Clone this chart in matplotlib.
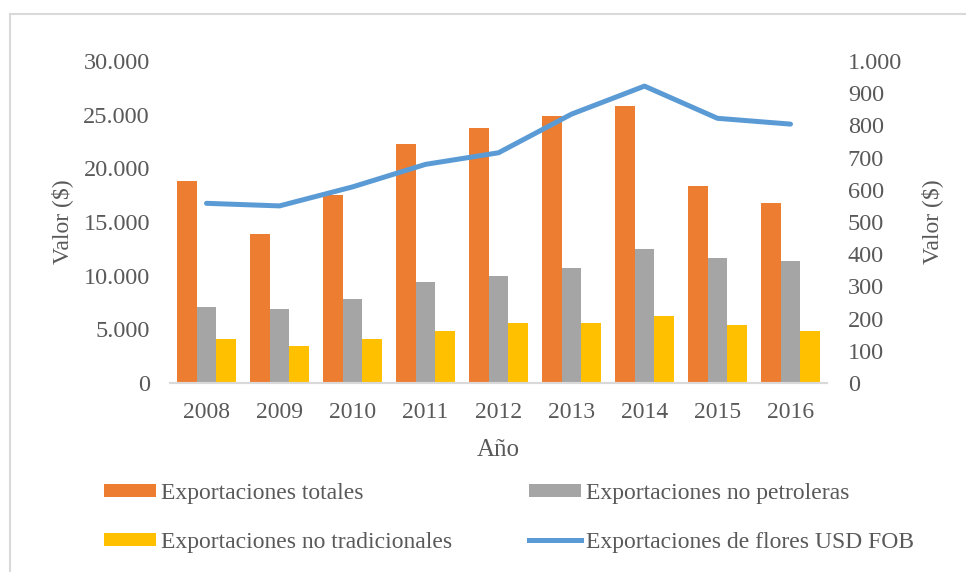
import matplotlib
matplotlib.use("Agg")
import matplotlib.pyplot as plt
import numpy as np
from matplotlib.lines import Line2D

years = ["2008", "2009", "2010", "2011", "2012", "2013", "2014", "2015", "2016"]
totales = [18800, 13900, 17500, 22300, 23800, 24900, 25800, 18400, 16800]
no_petroleras = [7100, 6900, 7800, 9400, 10000, 10700, 12450, 11650, 11350]
no_tradicionales = [4100, 3450, 4100, 4850, 5600, 5600, 6200, 5400, 4850]
flores = [558, 550, 609, 679, 715, 835, 922, 822, 804]

labels = ["Exportaciones totales", "Exportaciones no petroleras",
          "Exportaciones no tradicionales", "Exportaciones de flores USD FOB"]

c_or, c_gr, c_ye, c_bl = "#ED7D31", "#A5A5A5", "#FFC000", "#5B9BD5"
tcol = "#595959"
plt.rcParams['font.family'] = ['Liberation Serif', 'DejaVu Serif']

fig = plt.figure(figsize=(9.66, 5.72), dpi=100)
ax = fig.add_axes([170/966, 1-383/572, (827-170)/966, (383-61)/572])
ax2 = ax.twinx()

x = np.arange(len(years))
w = 0.267
b1 = ax.bar(x - w, totales, w, color=c_or, label=labels[0])
b2 = ax.bar(x, no_petroleras, w, color=c_gr, label=labels[1])
b3 = ax.bar(x + w, no_tradicionales, w, color=c_ye, label=labels[2])
l1, = ax2.plot(x, flores, color=c_bl, lw=3.6, solid_capstyle='round', label=labels[3])

ax.set_xlim(-0.5, len(years) - 0.5)
ax.set_ylim(0, 30000)
ax2.set_ylim(0, 1000)
ax.set_yticks(np.arange(0, 30001, 5000))
ax.set_yticklabels(["0" if v == 0 else f"{v:,}".replace(",", ".") for v in range(0, 30001, 5000)])
ax2.set_yticks(np.arange(0, 1001, 100))
ax2.set_yticklabels(["0" if v == 0 else f"{v:,}".replace(",", ".") for v in range(0, 1001, 100)])
ax.set_xticks(x)
ax.set_xticklabels(years)

for a in (ax, ax2):
    for s in ("top", "left", "right"):
        a.spines[s].set_visible(False)
    a.spines["bottom"].set_color("#D9D9D9")
    a.spines["bottom"].set_linewidth(1.5)
    a.tick_params(length=0, colors=tcol)
ax.tick_params(axis='y', pad=14.5, labelsize=17.5)
ax2.tick_params(axis='y', pad=15, labelsize=17.5)
ax.tick_params(axis='x', pad=14, labelsize=17)

ax.set_ylabel("Valor ($)", fontsize=17, color=tcol, labelpad=7)
ax2.set_ylabel("Valor ($)", fontsize=17, color=tcol, labelpad=14)
ax.set_xlabel("Año", fontsize=18, color=tcol, labelpad=11)

handles = [b1, b3, b2, Line2D([0], [0], color=c_bl, lw=3.6)]
hl = [labels[0], labels[2], labels[1], labels[3]]
leg = fig.legend(handles, hl, loc="upper left", bbox_to_anchor=(104/966, 1-483/572),
                 ncol=2, frameon=False, fontsize=17, labelcolor=tcol,
                 borderpad=0, borderaxespad=0,
                 handlelength=2.2, handleheight=0.47, handletextpad=0.21,
                 columnspacing=3.27, labelspacing=1.17)

fig.add_artist(Line2D([10/966, 10/966], [0, 1-14/572], transform=fig.transFigure, color="#D9D9D9", lw=1.5))
fig.add_artist(Line2D([10/966, 1], [1-14/572, 1-14/572], transform=fig.transFigure, color="#D9D9D9", lw=1.5))

fig.savefig("out.png", dpi=100)
